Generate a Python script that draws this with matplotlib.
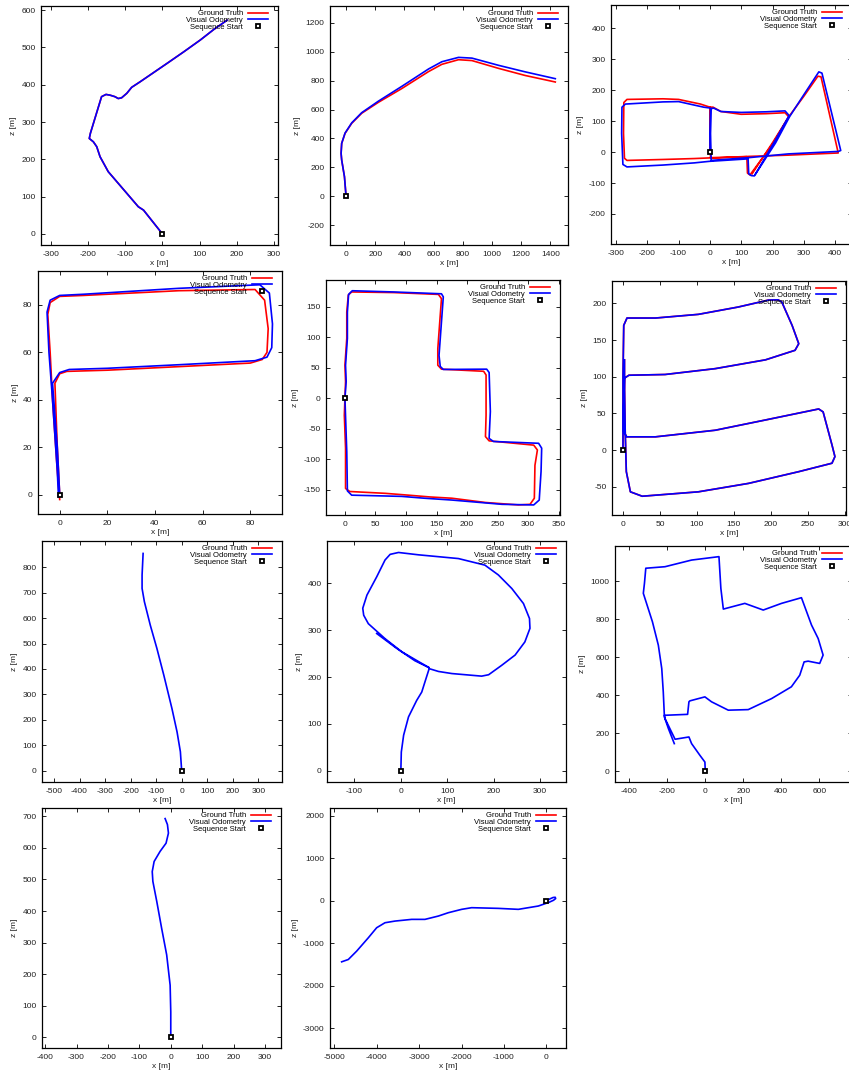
import matplotlib
matplotlib.use("Agg")
import matplotlib.pyplot as plt
from matplotlib.lines import Line2D
from matplotlib.transforms import offset_copy

plt.rcParams["font.family"] = ["Liberation Sans", "DejaVu Sans"]
plt.rcParams["axes.unicode_minus"] = False

W, H, DPI = 849, 1074, 100
RED = "#ff0000"
BLUE = "#0000ff"

# ---- trajectories (x, z in metres) ----
# seq A : GT and VO on top of each other
p1_x = [0, -51, -65, -96, -146, -168, -177, -186, -197, -194, -164, -152, -141, -128, -119, -110, -96, -83, -60, 12, 57, 102, 138, 174]
p1_z = [0, 64, 73, 109, 167, 207, 234, 247, 256, 270, 368, 374, 372, 368, 363, 365, 377, 393, 408, 457, 488, 520, 548, 573]

# seq B : highway, VO drifts upward after the bend
p2_x = [0, -11, -30, -34, -30, -7, 39, 107, 222, 382, 565, 656, 770, 862, 1045, 1227, 1433]
p2_gt_z = [0, 136, 251, 297, 366, 435, 505, 574, 650, 745, 862, 912, 944, 938, 884, 835, 790]
p2_vo_z = [0, 136, 251, 297, 366, 437, 508, 578, 658, 760, 880, 930, 960, 955, 905, 860, 813]

# seq C
p3_gt_x = [0, 0, -30, -100, -150, -265, -275, -276, -273, -265, -150, -50, -3, 60, 118, 120, 128, 200, 252, 300, 345, 355, 410, 250, 125, 30, 2, 0, 1, 10, 35, 100, 180, 240, 252, 200, 135]
p3_gt_z = [0, 145, 155, 170, 172, 170, 160, 60, -20, -27, -24, -21, -19, -17, -15, -68, -74, 25, 114, 180, 245, 243, -3, -10, -14, -18, -18, 60, 145, 145, 131, 122, 124, 127, 114, 30, -70]
p3_vo_x = [0, 2, -20, -100, -150, -270, -281, -282, -278, -265, -150, -50, -2, 60, 122, 124, 132, 142, 210, 255, 300, 348, 358, 418, 410, 250, 125, 30, 4, 2, 3, 12, 35, 100, 180, 240, 253, 210, 145]
p3_vo_z = [0, 142, 145, 163, 162, 155, 145, 60, -40, -48, -42, -35, -30, -26, -22, -70, -76, -77, 30, 115, 185, 259, 255, 5, 2, -6, -18, -25, -27, 60, 140, 142, 131, 128, 130, 133, 118, 40, -72]

# seq D : short loop
p4_gt_x = [0, -1, -2, 0, 3, 20, 50, 80, 85, 87, 87.5, 86, 82, 50, 10, 0, -4, -5, -4, -3, -1, 0]
p4_gt_z = [0, 20, 47, 51, 52, 52.5, 54, 55.5, 57, 60, 70, 82, 86.5, 86, 84, 83.6, 81, 76, 60, 40, 10, -2]
p4_vo_x = [0, -1, -3, 0, 4, 20, 50, 82, 87, 89, 89.3, 88, 84, 50, 10, 0, -4, -5.3, -4.5, -3, -1, -0.5]
p4_vo_z = [0, 20, 47, 51.5, 52.8, 53.3, 54.8, 56.5, 58, 62, 72, 85, 88.5, 87, 84.5, 84, 82, 77, 60, 40, 10, -1]

# seq E : L-shaped block
p5_gt_x = [0, 1, 0, 3, 3, 5.5, 11, 80, 153, 158, 156, 152, 152, 158, 227, 231, 231, 230, 236, 309, 315, 311, 310, 303, 284, 230, 175, 140, 104, 66, 8, 1, 1, -1, 0]
p5_gt_z = [0, 27, 54, 98, 141, 169, 174, 173, 170, 163, 136, 81, 54, 47.5, 44, 38, -28, -63, -70, -77, -85, -110, -164, -174, -175, -171, -164, -162, -159, -156, -153, -148, -82, -28, 0]
p5_vo_x = [0, 2, 1, 4, 4, 6, 12, 80, 158, 161, 158, 154, 156, 161, 232, 236, 238, 236, 243, 317, 322, 321, 318, 309, 257, 175, 130, 93, 11, 4, 3, 1, 0]
p5_vo_z = [0, 27, 54, 98, 141, 170, 176, 174, 171, 166, 125, 70, 52, 47, 47.5, 42, -22, -66, -71, -74, -82, -120, -167, -175, -174, -167, -164, -161, -159, -152, -88, -30, 0]

# seq F : two loops
p6_x = [0, 0, 1, 5.4, 44, 102, 156, 197, 210, 215, 229, 238, 233, 193, 125, 57, 8, 2, 1, 1, 5, 44, 125, 193, 265, 271, 283, 287, 283, 238, 170, 102, 26, 10, 4.5, 3, 2, 2]
p6_z = [0, 100, 170, 180, 180, 185, 195, 204.5, 204.8, 202, 170, 145, 136, 123, 111, 103, 102, 98, 60, 25, 18, 18, 27, 41, 56, 52, 7, -9, -18, -29.5, -45.5, -57, -63, -57, -29.5, 25, 90, 123]

# sequences without ground truth
p7_x = [0, -5, -18, -38, -70, -97, -123, -146, -155, -155, -151]
p7_z = [0, 74, 152, 244, 376, 481, 573, 665, 717, 770, 855]

p8_x = [0, 1, 6, 16.5, 34, 45, 52, 61, 81, 110, 174, 189, 217, 246, 267, 278, 277, 264, 239, 210, 181, 124, 38, -5, -23, -34, -52, -73, -82, -80, -70, -34, 2, 40, 61, 30, -10, -52]
p8_z = [0, 40, 76, 115, 150, 168, 190, 218, 212, 207.5, 202, 205, 225, 247, 275, 304, 325, 357, 389, 418, 439, 453, 461, 466, 462, 450, 414, 375, 347, 332, 314, 282, 254, 232, 220, 235, 262, 293]

p9_x = [0, -2, -28, -72, -86, -159, -212, -215, -93, -86, -81, -2, 33, 121, 226, 349, 453, 497, 520, 541, 602, 620, 594, 559, 506, 401, 305, 208, 95, 82, 72, -72, -212, -313, -320, -326, -278, -247, -229, -221, -215, -194, -163]
p9_z = [0, 49, 84, 146, 181, 169, 278, 295, 300, 366, 371, 392, 366, 322, 325, 383, 445, 506, 576, 580, 568, 612, 699, 770, 914, 884, 849, 884, 854, 963, 1130, 1112, 1077, 1069, 990, 937, 787, 664, 541, 418, 286, 225, 146]

p10_x = [0, 0, -2, -13, -29, -44.5, -57, -59, -53, -34, -15, -7.4, -10.6, -18]
p10_z = [0, 80.5, 165, 261, 345, 430, 494, 525, 557, 589, 615, 647, 674, 693]

p11_x = [0, 80, 160, 210, 220, 170, 60, -189, -660, -1132, -1761, -1997, -2311, -2547, -2862, -3176, -3569, -3805, -4002, -4198, -4473, -4670, -4827]
p11_z = [0, 40, 75, 80, 50, 10, -40, -126, -204, -181, -165, -204, -283, -362, -440, -440, -480, -519, -637, -873, -1187, -1384, -1439]

# panel layout: pixel box (left, top, right, bottom), limits, tick steps
panels = [
    dict(box=(41, 6, 278, 245), xlim=(-327, 311), ylim=(-29.5, 611), xt=range(-300, 301, 100), yt=range(0, 601, 100),
         gt=(p1_x, p1_z), vo=(p1_x, p1_z)),
    dict(box=(330, 6, 568, 245), xlim=(-110, 1520), ylim=(-336, 1315), xt=range(0, 1401, 200), yt=range(-200, 1201, 200),
         gt=(p2_x, p2_gt_z), vo=(p2_x, p2_vo_z)),
    dict(box=(611, 5, 852, 244), xlim=(-316, 454), ylim=(-297, 475), xt=range(-300, 401, 100), yt=range(-200, 401, 100),
         gt=(p3_gt_x, p3_gt_z), vo=(p3_vo_x, p3_vo_z)),
    dict(box=(38, 271, 282, 514), xlim=(-9.1, 93.3), ylim=(-8.1, 94.3), xt=range(0, 81, 20), yt=range(0, 81, 20),
         gt=(p4_gt_x, p4_gt_z), vo=(p4_vo_x, p4_vo_z)),
    dict(box=(326, 280, 560, 515), xlim=(-31, 352), ylim=(-191.5, 193.6), xt=range(0, 351, 50), yt=range(-150, 151, 50),
         gt=(p5_gt_x, p5_gt_z), vo=(p5_vo_x, p5_vo_z)),
    dict(box=(612, 281, 846, 515), xlim=(-14.9, 302), ylim=(-88.6, 230.5), xt=range(0, 301, 50), yt=range(-50, 201, 50),
         gt=(p6_x, p6_z), vo=(p6_x, p6_z)),
    dict(box=(42, 541, 282, 782), xlim=(-547, 393), ylim=(-45, 904), xt=range(-500, 301, 100), yt=range(0, 801, 100),
         gt=None, vo=(p7_x, p7_z)),
    dict(box=(327, 541, 566, 782), xlim=(-159, 355.6), ylim=(-24, 490.5), xt=range(-100, 301, 100), yt=range(0, 401, 100),
         gt=None, vo=(p8_x, p8_z)),
    dict(box=(615, 546, 852, 782), xlim=(-475, 772), ylim=(-56, 1186), xt=range(-400, 601, 200), yt=range(0, 1001, 200),
         gt=None, vo=(p9_x, p9_z)),
    dict(box=(42, 808, 281, 1048), xlim=(-410, 351), ylim=(-34, 726.5), xt=range(-400, 301, 100), yt=range(0, 701, 100),
         gt=None, vo=(p10_x, p10_z)),
    dict(box=(330, 808, 566, 1048), xlim=(-5102, 464), ylim=(-3467, 2181), xt=range(-5000, 1, 1000), yt=range(-3000, 2001, 1000),
         gt=None, vo=(p11_x, p11_z)),
]

fig = plt.figure(figsize=(W / DPI, H / DPI), dpi=DPI)

for p in panels:
    l, t, r, b = p["box"]
    ax = fig.add_axes([l / W, 1 - b / H, (r - l) / W, (b - t) / H])
    if p["gt"] is not None:
        ax.plot(*p["gt"], color=RED, lw=1.2)
    ax.plot(*p["vo"], color=BLUE, lw=1.2)
    ax.plot(0, 0, "s", ms=3.4, mfc="white", mec="black", mew=1.3)

    ax.set_xlim(*p["xlim"])
    ax.set_ylim(*p["ylim"])
    ax.set_xticks(list(p["xt"]))
    ax.set_yticks(list(p["yt"]))
    ax.tick_params(direction="in", length=2.6, width=0.7, top=True, right=True,
                   labelsize=6, colors="#222222", pad=4)
    for s in ax.spines.values():
        s.set_linewidth(0.9)
    ax.set_xlabel("x [m]", fontsize=6, labelpad=2, color="#222222")
    ax.set_ylabel("z [m]", fontsize=6, labelpad=3, color="#222222")

    handles = [Line2D([], [], color=RED, lw=1.2),
               Line2D([], [], color=BLUE, lw=1.2),
               Line2D([], [], ls="none", marker="s", ms=3.4, mfc="white", mec="black", mew=1.3)]
    ax.legend(handles, ["Ground Truth", "Visual Odometry", "Sequence Start"],
              loc="upper right", markerfirst=False, frameon=False, fontsize=5.5,
              handlelength=2.6, handletextpad=0.7, labelspacing=-0.1,
              borderpad=0, borderaxespad=0, bbox_to_anchor=(1, 1),
              bbox_transform=offset_copy(ax.transAxes, fig=fig, x=-10, y=-4, units="dots"))

fig.savefig("out.png", dpi=DPI)
